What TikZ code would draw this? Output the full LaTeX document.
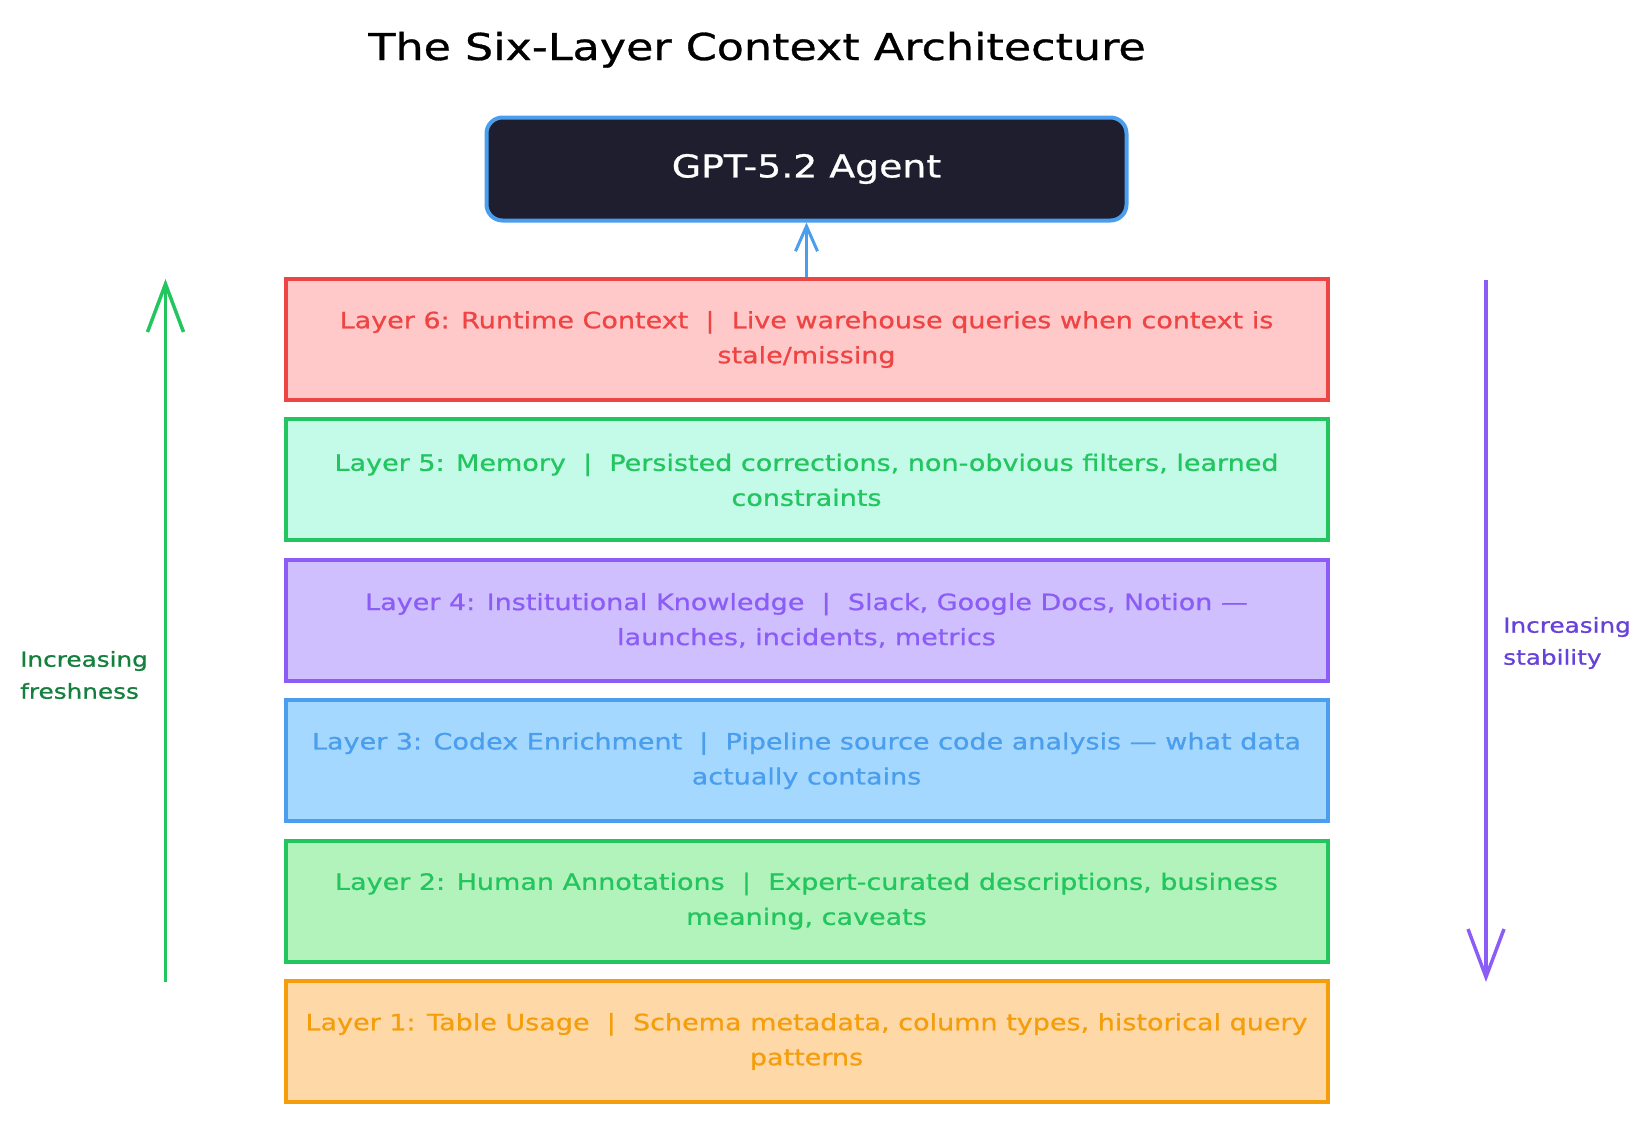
\documentclass[tikz,border=0pt]{standalone}
\usepackage{fontspec}
\setmainfont[FakeStretch=1.2, FakeBold=0.8]{DejaVu Sans}
\usepackage{tikz}
\usetikzlibrary{arrows.meta}

\definecolor{agentdark}{HTML}{1E1E2E}
\definecolor{agentblue}{HTML}{4A9EED}
\definecolor{redline}{HTML}{EF4444}
\definecolor{redfill}{HTML}{FFC9C9}
\definecolor{greenline}{HTML}{22C55E}
\definecolor{mintfill}{HTML}{C3FAE8}
\definecolor{greenfill}{HTML}{B2F2BB}
\definecolor{purpleline}{HTML}{8B5CF6}
\definecolor{purplefill}{HTML}{D0BFFF}
\definecolor{bluefill}{HTML}{A5D8FF}
\definecolor{orangeline}{HTML}{F59E0B}
\definecolor{orangefill}{HTML}{FFD8A8}
\definecolor{freshtext}{HTML}{15803D}
\definecolor{stabletext}{HTML}{6741D9}

\tikzset{
  layerbox/.style = {draw, line width=4pt, minimum width=1042pt, minimum height=121pt,
    align=center, inner sep=0pt, font=\fontsize{22.5}{35}\selectfont},
  sidearrow/.style = {line width=3.5pt, -{Straight Barb[length=48pt, width=36pt, line width=3.5pt]}},
  sidelabel/.style = {anchor=west, align=left, inner sep=0pt, font=\fontsize{20.6}{32}\selectfont}
}

\begin{document}
\begin{tikzpicture}[x=1pt, y=-1pt]
    \useasboundingbox [fill=white] (0, 0) rectangle (1650, 1120);

    \node [anchor=base, inner sep=0pt, font=\fontsize{37}{40}\selectfont] (title) at (757, 60) {The Six-Layer Context Architecture};

    \node [draw=agentblue, fill=agentdark, line width=4pt, rounded corners=16pt,
      minimum width=640pt, minimum height=103pt, text=white,
      font=\fontsize{31.5}{36}\selectfont] (agent) at (806.5, 169) {GPT-5.2 Agent};

    \node [layerbox, draw=redline, fill=redfill, text=redline] (layer6) at (806.5, 339.5)
      {Layer 6: Runtime Context~~|~~Live warehouse queries when context is\\stale/missing};
    \node [layerbox, draw=greenline, fill=mintfill, text=greenline] (layer5) at (806.5, 479.9)
      {Layer 5: Memory~~|~~Persisted corrections, non-obvious filters, learned\\constraints};
    \node [layerbox, draw=purpleline, fill=purplefill, text=purpleline] (layer4) at (806.5, 620.3)
      {Layer 4: Institutional Knowledge~~|~~Slack, Google Docs, Notion —\\launches, incidents, metrics};
    \node [layerbox, draw=agentblue, fill=bluefill, text=agentblue] (layer3) at (806.5, 760.7)
      {Layer 3: Codex Enrichment~~|~~Pipeline source code analysis — what data\\actually contains};
    \node [layerbox, draw=greenline, fill=greenfill, text=greenline] (layer2) at (806.5, 901.1)
      {Layer 2: Human Annotations~~|~~Expert-curated descriptions, business\\meaning, caveats};
    \node [layerbox, draw=orangeline, fill=orangefill, text=orangeline] (layer1) at (806.5, 1041.5)
      {Layer 1: Table Usage~~|~~Schema metadata, column types, historical query\\patterns};

    % layer 6 feeds the agent
    \draw [agentblue, line width=3pt, -{Straight Barb[length=25pt, width=22pt, line width=3pt]}] (layer6.north) -- (agent.south);

    % freshness goes up, stability goes down
    \coordinate (freshlow) at (165.5, 982);
    \coordinate (freshtop) at (165.5, 279);
    \coordinate (stabletop) at (1486, 280);
    \coordinate (stablelow) at (1486, 982);
    \draw [sidearrow, greenline] (freshlow) -- (freshtop);
    \draw [sidearrow, purpleline] (stabletop) -- (stablelow);
    \node [sidelabel, text=freshtext] (freshlabel) at (20, 675) {Increasing\\freshness};
    \node [sidelabel, text=stabletext] (stablelabel) at (1503, 643) {Increasing\\stability};
  \end{tikzpicture}
\end{document}
